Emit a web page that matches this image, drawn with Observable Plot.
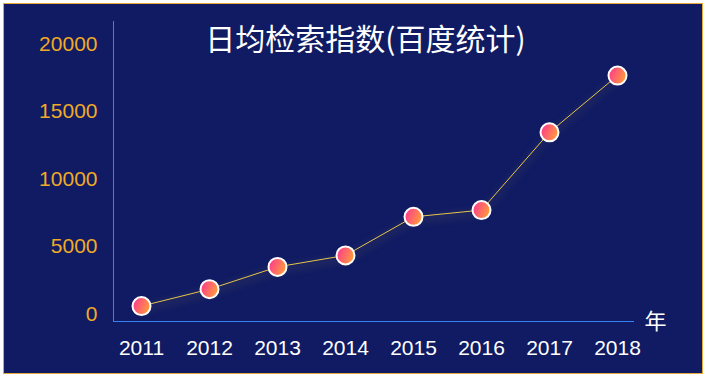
<!DOCTYPE html>
<html>
<head>
<meta charset="utf-8">
<script src="https://cdn.jsdelivr.net/npm/d3@7"></script>
<script src="https://cdn.jsdelivr.net/npm/@observablehq/plot@0.6"></script>
<style>
  html, body { margin: 0; padding: 0; background: #ffffff; }
  #wrap { position: relative; width: 706px; height: 377px; overflow: hidden; }
  #box { position: absolute; left: 3px; top: 3px; width: 698px; height: 369px;
         border: 1px solid #e6a93a; background: #101b63; }
  #chart { position: absolute; left: 0; top: 0; }
</style>
</head>
<body>
<div id="wrap"><div id="box"></div><div id="chart"></div></div>
<script>
const years = ["2011", "2012", "2013", "2014", "2015", "2016", "2017", "2018"];
const values = [600, 1850, 3500, 4350, 7200, 7700, 13450, 17650];
const yTicks = [0, 5000, 10000, 15000, 20000];
const title = "日均检索指数(百度统计)";
const xUnit = "年";

const data = years.map((y, i) => ({year: y, value: values[i]}));

const axisColor = "#3580f2";

const chart = Plot.plot({
  width: 706,
  height: 377,
  marginLeft: 113,
  marginRight: 73,
  marginTop: 21,
  marginBottom: 56,
  style: {background: "transparent", fontFamily: "'Liberation Sans', Arial, sans-serif", overflow: "visible", color: axisColor},
  x: {type: "point", domain: years, range: [140.7, 618], padding: 0},
  y: {domain: [0, 20000], range: [313.7, 43.3]},
  marks: [
    Plot.frame({anchor: "left", stroke: axisColor, strokeOpacity: 1, strokeWidth: 1.5, shapeRendering: "crispEdges"}),
    Plot.frame({anchor: "bottom", stroke: axisColor, strokeOpacity: 1, strokeWidth: 1.5, shapeRendering: "crispEdges"}),
    Plot.axisY({ticks: yTicks, tickSize: 0, tickPadding: 16, fill: "#f0aa26", fontSize: 21, label: null, tickFormat: d => String(d)}),
    Plot.axisX({tickSize: 0, tickPadding: 19, fill: "#ffffff", fontSize: 21, label: null}),
    Plot.line(data, {x: "year", y: "value", stroke: "#e8c64a", strokeWidth: 1,
      imageFilter: "drop-shadow(0px 3px 4px rgba(232,198,74,0.6))"}),
    Plot.dot(data, {x: "year", y: "value", r: 9, fill: "url(#dotGrad)", stroke: "#ffffff", strokeWidth: 2}),
    Plot.text([title], {frameAnchor: "top", dx: -8, dy: 18.5, lineAnchor: "middle", fill: "#ffffff", fontSize: 30,
      fontFamily: "'Noto Sans CJK SC', sans-serif"}),
    Plot.text([xUnit], {frameAnchor: "bottom-right", dx: 22, dy: 0, lineAnchor: "middle", textAnchor: "middle", fill: "#ffffff", fontSize: 22,
      fontFamily: "'Noto Sans CJK SC', sans-serif"})
  ]
});

d3.select(chart).insert("defs", ":first-child").html(
  '<linearGradient id="dotGrad" x1="0" y1="0.3" x2="1" y2="0.7">' +
  '<stop offset="0.1" stop-color="#ff4386"/>' +
  '<stop offset="1" stop-color="#ffa236"/>' +
  '</linearGradient>'
);

document.getElementById("chart").appendChild(chart);
</script>
</body>
</html>
